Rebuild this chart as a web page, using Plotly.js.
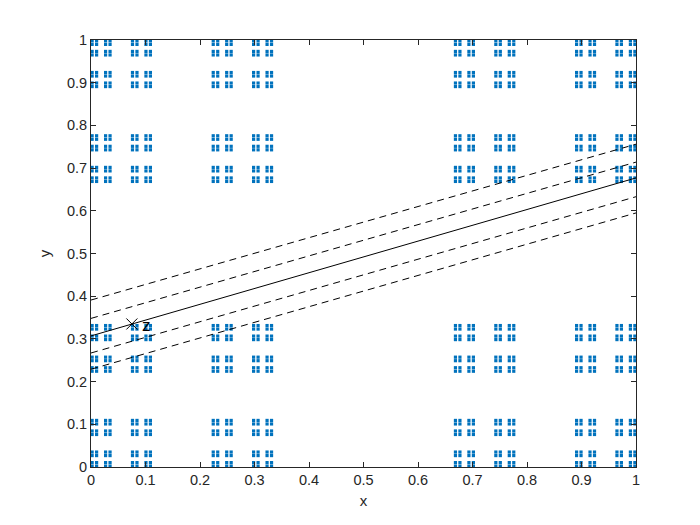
<!DOCTYPE html>
<html>
<head>
<meta charset="utf-8">
<script src="https://cdn.plot.ly/plotly-3.0.1.min.js"></script>
<style>
  html, body { margin: 0; padding: 0; background: #fff; }
  #plot { width: 700px; height: 525px; }
</style>
</head>
<body>
<div id="plot"></div>
<script>
// Cantor set cell indices at level 5 (out of 243), same on both axes
const cantorIdx = [0, 2, 6, 8, 18, 20, 24, 26, 54, 56, 60, 62, 72, 74, 78, 80,
  162, 164, 168, 170, 180, 182, 186, 188, 216, 218, 222, 224, 234, 236, 240, 242];

// fitted line and the dashed band lines (end points at x = 0 and x = 1)
const lineX = [0, 1];
const solidY = [0.307, 0.677];
const dashedY = [
  [0.391, 0.756],
  [0.348, 0.714],
  [0.267, 0.633],
  [0.229, 0.595]
];

// point z
const zX = [0.075];
const zY = [0.335];
const zLabel = ['z'];

const cantorVals = cantorIdx.map(n => (n + 0.5) / 243);
const dustX = [];
const dustY = [];
cantorVals.forEach(xv => {
  cantorVals.forEach(yv => {
    dustX.push(xv);
    dustY.push(yv);
  });
});

const data = [
  {
    x: dustX, y: dustY, type: 'scatter', mode: 'markers',
    marker: { symbol: 'square', size: 3.2, color: '#0072BD', line: { width: 0 } },
    hoverinfo: 'skip', cliponaxis: false
  },
  {
    x: lineX, y: solidY, type: 'scatter', mode: 'lines',
    line: { color: '#000', width: 1 }
  }
];

dashedY.forEach(yy => {
  data.push({
    x: lineX, y: yy, type: 'scatter', mode: 'lines',
    line: { color: '#000', width: 1, dash: '7px,5px' }
  });
});

data.push({
  x: zX, y: zY, type: 'scatter', mode: 'markers',
  marker: { symbol: 'x-thin', size: 11, color: '#000', line: { width: 1, color: '#000' } }
});

const tickVals = [0, 0.1, 0.2, 0.3, 0.4, 0.5, 0.6, 0.7, 0.8, 0.9, 1];
const tickText = ['0', '0.1', '0.2', '0.3', '0.4', '0.5', '0.6', '0.7', '0.8', '0.9', '1'];

const fontFam = 'Liberation Sans, Arial, sans-serif';

const axisCommon = {
  range: [0, 1],
  tickvals: tickVals,
  ticktext: tickText,
  ticks: 'inside',
  ticklen: 5,
  tickwidth: 1,
  tickcolor: '#262626',
  showline: true,
  linecolor: '#262626',
  linewidth: 1,
  mirror: 'ticks',
  showgrid: false,
  zeroline: false,
  tickfont: { family: fontFam, size: 14.5, color: '#262626' }
};

const layout = {
  width: 700,
  height: 525,
  margin: { l: 91, r: 64, t: 40, b: 58 },
  paper_bgcolor: '#fff',
  plot_bgcolor: '#fff',
  showlegend: false,
  xaxis: Object.assign({}, axisCommon, {
    title: { text: 'x', standoff: 8, font: { family: fontFam, size: 15, color: '#262626' } }
  }),
  yaxis: Object.assign({}, axisCommon, {
    title: { text: 'y', standoff: 12, font: { family: fontFam, size: 15, color: '#262626' } }
  }),
  annotations: zX.map((xv, i) => ({
    x: xv, y: zY[i], xref: 'x', yref: 'y', text: zLabel[i],
    showarrow: false, xanchor: 'left', yanchor: 'middle', xshift: 8, yshift: -2,
    font: { family: fontFam, size: 17, color: '#000' }
  }))
};

Plotly.newPlot('plot', data, layout, { displayModeBar: false, staticPlot: true });
</script>
</body>
</html>
